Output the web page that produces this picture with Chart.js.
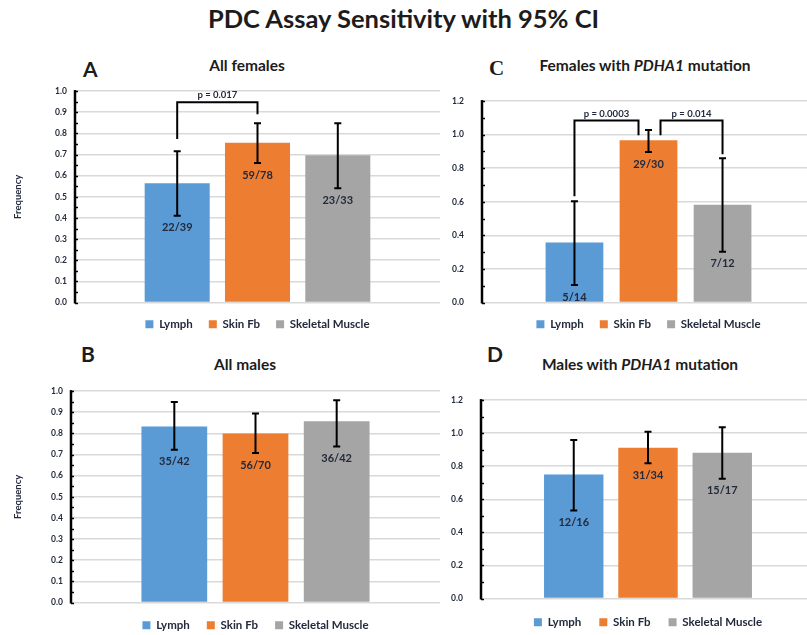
<!DOCTYPE html>
<html lang="en">
<head>
	<meta charset="UTF-8">
	<title>PDC Assay Sensitivity</title>
	<script src="https://cdn.jsdelivr.net/npm/chart.js@4.4.1/dist/chart.umd.min.js"></script>
	<style>
		body { margin: 0; width: 807px; height: 635px; overflow: hidden; background: #fff; position: relative; font-family: Lato, "Open Sans", sans-serif; color: #1c1c1c; }
		canvas { position: absolute; }
		.txt { position: absolute; font-weight: bold; white-space: nowrap; }
		#mainTitle { left: 0; width: 807px; top: 3px; text-align: center; font-size: 25.5px; }
		.panelTitle { font-size: 15.5px; transform: translateX(-50%); }
		.letter { font-size: 21px; }
	</style>
</head>
<body>

	<div id="mainTitle" class="txt">PDC Assay Sensitivity with 95% CI</div>

	<div class="txt letter" style="left:83px; top:56px;">A</div>
	<div class="txt letter" style="left:81px; top:341px;">B</div>
	<div class="txt letter" style="left:489px; top:56px; font-family:'Liberation Serif', serif;">C</div>
	<div class="txt letter" style="left:487px; top:341px;">D</div>

	<div class="txt panelTitle" style="left:247px; top:56px;">All females</div>
	<div class="txt panelTitle" style="left:245px; top:355px;">All males</div>
	<div class="txt panelTitle" style="left:645px; top:56px;">Females with <i>PDHA1</i> mutation</div>
	<div class="txt panelTitle" style="left:640px; top:355px;">Males with <i>PDHA1</i> mutation</div>

	<canvas id="chartA" width="445" height="262" style="left:0; top:78px;"></canvas>
	<canvas id="chartB" width="445" height="263" style="left:0; top:378px;"></canvas>
	<canvas id="chartC" width="375" height="262" style="left:440px; top:78px;"></canvas>
	<canvas id="chartD" width="375" height="261" style="left:440px; top:377px;"></canvas>

	<script>
	// sample types (one dataset each)
	var tissues = ['Lymph', 'Skin Fb', 'Skeletal Muscle'];
	var tissueColors = ['#5b9bd5', '#ed7d31', '#a5a5a5'];

	// A - all females
	var femalesValues = [0.564, 0.756, 0.697];
	var femalesLow = [0.41, 0.66, 0.54];
	var femalesHigh = [0.715, 0.848, 0.848];
	var femalesCounts = ['22/39', '59/78', '23/33'];

	// B - all males
	var malesValues = [0.833, 0.80, 0.857];
	var malesLow = [0.722, 0.707, 0.738];
	var malesHigh = [0.949, 0.894, 0.957];
	var malesCounts = ['35/42', '56/70', '36/42'];

	// C - females with PDHA1 mutation
	var femPdhaValues = [0.357, 0.967, 0.583];
	var femPdhaLow = [0.104, 0.897, 0.303];
	var femPdhaHigh = [0.603, 1.028, 0.86];
	var femPdhaCounts = ['5/14', '29/30', '7/12'];

	// D - males with PDHA1 mutation
	var malePdhaValues = [0.75, 0.912, 0.882];
	var malePdhaLow = [0.532, 0.818, 0.724];
	var malePdhaHigh = [0.959, 1.008, 1.036];
	var malePdhaCounts = ['12/16', '31/34', '15/17'];

	// significance brackets: bars compared, bracket top, leg ends, text
	var femalesPvals = [
		{a: 0, b: 1, top: 0.947, endA: 0.774, endB: 0.89, text: 'p = 0.017'}
	];
	var femPdhaPvals = [
		{a: 0, b: 1, top: 1.084, endA: 0.633, endB: 0.996, text: 'p = 0.0003', shiftB: -10},
		{a: 1, b: 2, top: 1.084, endA: 0.996, endB: 0.884, text: 'p = 0.014', shiftA: 12}
	];

	var textColor = '#222a3c';
	var fontName = 'Lato, "Open Sans", sans-serif';

	// draws error bars, count labels, brackets and the minor ticks on the y axis
	var extrasPlugin = {
		id: 'extras',
		afterDatasetsDraw: function(chart) {
			var opts = chart.options.plugins.extras;
			var ctx = chart.ctx;
			var yScale = chart.scales.y;
			var area = chart.chartArea;
			ctx.save();

			//minor ticks inside the axis
			ctx.strokeStyle = '#000';
			ctx.lineWidth = 1.5;
			for (var v = 0; v <= yScale.max + 1e-9; v += opts.minorStep) {
				var ty = Math.round(yScale.getPixelForValue(v)) + 0.5;
				ctx.beginPath();
				ctx.moveTo(area.left, ty);
				ctx.lineTo(area.left + 3, ty);
				ctx.stroke();
			}
			//the axis line itself
			ctx.lineWidth = 2.5;
			ctx.beginPath();
			ctx.moveTo(area.left, area.top - 1);
			ctx.lineTo(area.left, area.bottom + 1);
			ctx.stroke();

			var centers = [];
			chart.data.datasets.forEach(function(ds, i) {
				var bar = chart.getDatasetMeta(i).data[0];
				centers.push(bar.x);
				var yLow = yScale.getPixelForValue(opts.low[i]);
				var yHigh = yScale.getPixelForValue(opts.high[i]);

				ctx.strokeStyle = '#000';
				ctx.lineWidth = 2;
				ctx.beginPath();
				ctx.moveTo(bar.x, yLow);
				ctx.lineTo(bar.x, yHigh);
				ctx.moveTo(bar.x - 3.5, yLow);
				ctx.lineTo(bar.x + 3.5, yLow);
				ctx.moveTo(bar.x - 3.5, yHigh);
				ctx.lineTo(bar.x + 3.5, yHigh);
				ctx.stroke();

				ctx.fillStyle = textColor;
				ctx.font = 'bold 11px ' + fontName;
				ctx.textAlign = 'center';
				ctx.textBaseline = 'middle';
				ctx.fillText(opts.counts[i], bar.x, yLow + 12);
			});

			(opts.pvals || []).forEach(function(p) {
				var xa = centers[p.a] + (p.shiftA || 0);
				var xb = centers[p.b] + (p.shiftB || 0);
				var yt = yScale.getPixelForValue(p.top);
				ctx.strokeStyle = '#000';
				ctx.lineWidth = 2;
				ctx.beginPath();
				ctx.moveTo(xa, yScale.getPixelForValue(p.endA));
				ctx.lineTo(xa, yt);
				ctx.lineTo(xb, yt);
				ctx.lineTo(xb, yScale.getPixelForValue(p.endB));
				ctx.stroke();
				ctx.fillStyle = textColor;
				ctx.font = 'bold 9.5px ' + fontName;
				ctx.textAlign = 'center';
				ctx.textBaseline = 'middle';
				ctx.fillText(p.text, (xa + xb) / 2, yt - 7);
			});
			ctx.restore();
		}
	};

	function makePanel(id, values, low, high, counts, pvals, panel) {
		var datasets = [];
		for (var i = 0; i < tissues.length; i++) {
			datasets.push({
				label: tissues[i],
				data: [values[i]],
				backgroundColor: tissueColors[i],
				borderWidth: 0,
				categoryPercentage: panel.catPct,
				barPercentage: panel.barPct
			});
		}
		return new Chart(document.getElementById(id), {
			type: 'bar',
			data: { labels: [''], datasets: datasets },
			plugins: [extrasPlugin],
			options: {
				responsive: false,
				animation: false,
				layout: { padding: { top: 10, left: 0, right: panel.padRight, bottom: 0 } },
				plugins: {
					tooltip: { enabled: false },
					title: { display: false },
					legend: {
						position: 'bottom',
						fullSize: false,
						labels: {
							boxWidth: 8,
							boxHeight: 8,
							padding: panel.legendPad,
							color: textColor,
							font: { family: fontName, size: 11.5, weight: 'bold' }
						}
					},
					extras: { low: low, high: high, counts: counts, pvals: pvals, minorStep: panel.minor }
				},
				scales: {
					x: { display: false },
					y: {
						min: 0,
						max: panel.max,
						afterFit: function(scale) { scale.width = panel.axisWidth; },
						border: { display: false },
						grid: { color: '#d9d9d9', lineWidth: 1.5, drawTicks: false },
						ticks: {
							stepSize: panel.step,
							padding: panel.tickPad,
							color: textColor,
							font: { family: fontName, size: 8.5, weight: 'bold' },
							callback: function(v) { return v.toFixed(1); }
						},
						title: {
							display: panel.showTitle,
							text: 'Frequency',
							color: textColor,
							padding: { top: 12, bottom: 0 },
							font: { family: fontName, size: 9.5, weight: 'bold' }
						}
					}
				}
			}
		});
	}

	makePanel('chartA', femalesValues, femalesLow, femalesHigh, femalesCounts, femalesPvals,
		{ max: 1.0, step: 0.1, minor: 0.05, axisWidth: 75, tickPad: 8, padRight: 5, legendPad: 16, catPct: 0.66, barPct: 0.81, showTitle: true });
	makePanel('chartB', malesValues, malesLow, malesHigh, malesCounts, [],
		{ max: 1.0, step: 0.1, minor: 0.05, axisWidth: 71, tickPad: 8, padRight: 5, legendPad: 17, catPct: 0.66, barPct: 0.81, showTitle: true });
	makePanel('chartC', femPdhaValues, femPdhaLow, femPdhaHigh, femPdhaCounts, femPdhaPvals,
		{ max: 1.2, step: 0.2, minor: 0.1, axisWidth: 42, tickPad: 18, padRight: 0, legendPad: 16, catPct: 0.667, barPct: 0.78, showTitle: false });
	makePanel('chartD', malePdhaValues, malePdhaLow, malePdhaHigh, malePdhaCounts, [],
		{ max: 1.2, step: 0.2, minor: 0.1, axisWidth: 41, tickPad: 18, padRight: 0, legendPad: 18, catPct: 0.667, barPct: 0.8, showTitle: false });
	</script>

</body>
</html>
